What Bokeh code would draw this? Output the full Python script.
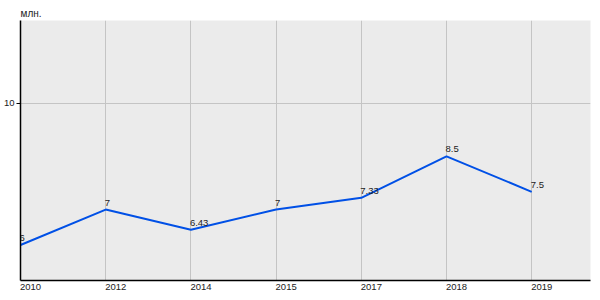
from bokeh.plotting import figure
from bokeh.models import ColumnDataSource, Range1d, FixedTicker, LinearAxis
from bokeh.core.properties import value
from bokeh.embed import file_html
from bokeh.resources import INLINE

years = ["2010", "2012", "2014", "2015", "2017", "2018", "2019"]
values = [6, 7, 6.43, 7, 7.33, 8.5, 7.5]
value_labels = ["6", "7", "6.43", "7", "7.33", "8.5", "7.5"]
y_ticks = [10]

pos = list(range(len(years)))
src = ColumnDataSource(dict(x=pos, y=values, lab=value_labels))

FONT = "Liberation Sans"
X_END = 6.69
LAB_SHIFT = 0.118  # left-aligned category labels

p = figure(width=600, height=300, output_backend="svg", toolbar_location=None,
           x_range=Range1d(0, X_END), y_range=Range1d(5, 12.33),
           min_border_left=20, min_border_right=10, min_border_top=20, min_border_bottom=20,
           background_fill_color="#ebebeb", border_fill_color="white")
p.outline_line_color = None

p.title.text = "млн."
p.title.text_font = FONT
p.title.text_font_size = "10px"
p.title.text_font_style = "normal"
p.title.text_color = "#222222"
p.title.offset = 0
p.title.standoff = 4

p.line("x", "y", source=src, line_color="#0050e6", line_width=2)
p.text("x", "y", text="lab", source=src, text_font=value(FONT), text_font_size="9.5px",
       text_color="#222222", text_align="left", text_baseline="bottom",
       x_offset=-1, y_offset=-4)

p.xaxis.visible = False
p.xgrid.ticker = FixedTicker(ticks=pos)

p.extra_x_ranges = {"lab": Range1d(-LAB_SHIFT, X_END - LAB_SHIFT)}
xax = LinearAxis(x_range_name="lab", ticker=FixedTicker(ticks=pos),
                 major_label_overrides={i: y for i, y in enumerate(years)})
p.add_layout(xax, "below")

p.yaxis.ticker = FixedTicker(ticks=y_ticks)

for ax in (xax, p.yaxis[0]):
    ax.axis_line_color = "black"
    ax.axis_line_width = 1.5
    ax.major_label_text_font = FONT
    ax.major_label_text_font_size = "9.5px"
    ax.major_label_text_color = "#222222"
    ax.minor_tick_line_color = None
    ax.major_tick_in = 0

xax.major_tick_line_color = None
xax.major_tick_out = 0
xax.major_label_standoff = 3
p.yaxis.major_tick_out = 4
p.yaxis.major_tick_line_color = "black"
p.yaxis.major_label_standoff = 2

p.xgrid.grid_line_color = "#c4c4c4"
p.ygrid.grid_line_color = "#c4c4c4"

open("out.html", "w").write(file_html(p, INLINE))
